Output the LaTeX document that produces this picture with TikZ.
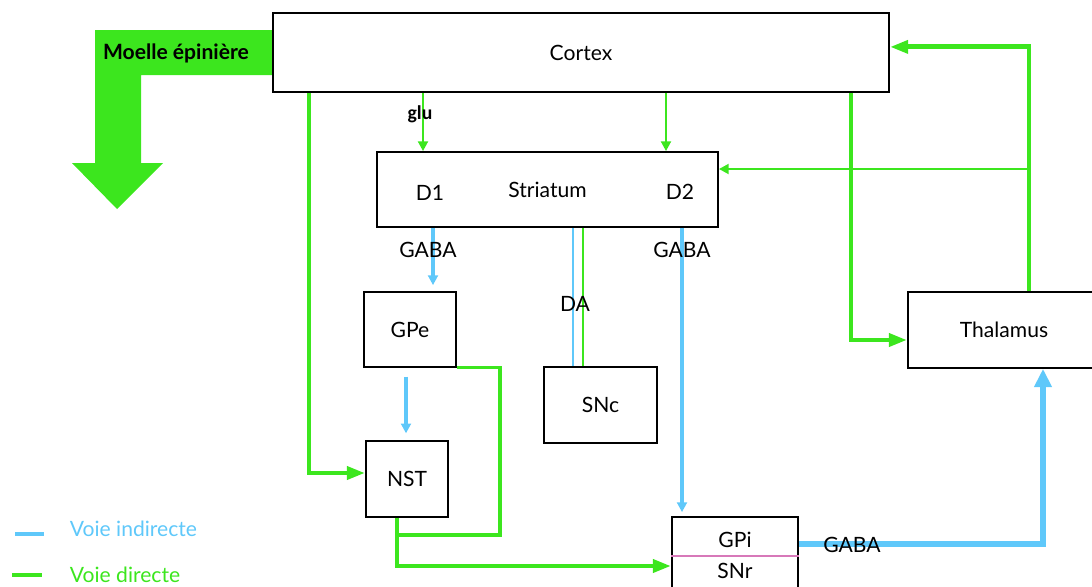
\documentclass[tikz,border=0pt]{standalone}
\usepackage{fontspec}
\setmainfont{Lato}
\newfontfamily\calib{Carlito}
\usepackage{tikz}
\usetikzlibrary{arrows.meta, positioning, calc}
\definecolor{vgreen}{RGB}{60,230,30}
\definecolor{vblue}{RGB}{95,200,250}
\definecolor{vpink}{RGB}{215,120,185}

\begin{document}
\begin{tikzpicture}[x=0.025cm,y=-0.025cm,font=\fontsize{15}{17}\selectfont,
  box/.style={draw,line width=1.2pt,inner sep=0pt,fill=white},
  gthick/.style={vgreen,line width=3.5pt,-{Triangle[length=13pt,width=9pt]}},
  gthin/.style={vgreen,line width=2pt,-{Triangle[length=7pt,width=7pt]}},
  bthin/.style={vblue,line width=2.2pt,-{Triangle[length=7pt,width=7pt]}},
  bthick/.style={vblue,line width=4pt,-{Triangle[length=13pt,width=12pt]}}]
  \useasboundingbox (0,0) rectangle (1092,586);
  % moelle epiniere
  \fill[vgreen] (273,30) -- (95,30) -- (95,163) -- (72,163) -- (117,209)
    -- (163,163) -- (141,163) -- (141,75) -- (273,75) -- cycle;
  \node[font=\fontsize{15}{17}\selectfont\bfseries] (moelle) at (176,53) {Moelle épinière};
  % boxes
  \node[box,minimum width=15.4cm,minimum height=1.975cm] (cortex) at (581,52.5) {Cortex};
  \node[box,minimum width=8.525cm,minimum height=1.875cm] (striatum) at (547.5,189.5) {Striatum};
  \node (d1) at (430,193) {D1};
  \node (d2) at (680,192) {D2};
  \node[box,minimum width=2.3cm,minimum height=1.875cm] (gpe) at (410,329.5) {GPe};
  \node[box,minimum width=2.825cm,minimum height=1.9cm] (snc) at (600.5,405) {SNc};
  \node[box,minimum width=2.05cm,minimum height=1.9cm] (nst) at (407,479) {NST};
  \node[box,minimum width=3.15cm,minimum height=1.95cm] (gpi) at (735,556) {};
  \draw[vpink,line width=1pt] (gpi.west) -- (gpi.east);
  \node (gpitxt) at (735,540) {GPi};
  \node (snrtxt) at (735,571) {SNr};
  \node[box,minimum width=4.8cm,minimum height=1.9cm] (thal) at (1004,330) {Thalamus};
  % cortex -> striatum
  \draw[gthin] (423,0 |- cortex.south) -- (423,0 |- striatum.north);
  \draw[gthin] (666,0 |- cortex.south) -- (666,0 |- striatum.north);
  \node[font=\calib\fontsize{14}{16}\selectfont\bfseries] (glu) at (420,114) {glu};
  % cortex -> NST, cortex -> thalamus
  \draw[gthick] (309,0 |- cortex.south) |- ([yshift=0.15cm]nst.west);
  \draw[gthick] (851,0 |- cortex.south) |- ([yshift=-0.25cm]thal.west);
  % thalamus -> cortex, striatum
  \draw[gthick] (1029,0 |- thal.north) |- ([yshift=0.14cm]cortex.east);
  \coordinate (br) at (1029,169);
  \draw[gthin] (br) -- (striatum.east |- br);
  % striatum outputs
  \draw[bthin,shorten >=0.15cm] (433,0 |- striatum.south) -- (433,0 |- gpe.north);
  \node (gaba1) at (428,250) {GABA};
  \draw[vblue,line width=2pt] (573,0 |- striatum.south) -- (573,0 |- snc.north);
  \draw[vgreen,line width=2pt] (583,0 |- striatum.south) -- (583,0 |- snc.north);
  \node (da) at (575,304) {DA};
  \draw[bthin,shorten >=0.1cm] (682,0 |- striatum.south) -- (682,0 |- gpi.north);
  \node (gaba2) at (682,250) {GABA};
  % GPe -> NST
  \draw[bthin,shorten <=0.22cm,shorten >=0.17cm] (406,0 |- gpe.south) -- (406,0 |- nst.north);
  \coordinate (nstjoin) at (397,535);
  \draw[vgreen,line width=2.2pt] (gpe.south east) -| (500,0 |- nstjoin) -- (nstjoin);
  % NST -> GPi
  \draw[gthick] (397,0 |- nst.south) |- ([yshift=-0.25cm]gpi.west);
  % GPi -> thalamus
  \draw[bthick] ([yshift=0.3cm]gpi.east) -| (1043,0 |- thal.south);
  \node (gaba3) at (852,545) {GABA};
  % legend
  \draw[vblue,line width=2.5pt] (15,534) -- (44,534);
  \node[vblue,anchor=west] (lgind) at (65,529) {Voie indirecte};
  \draw[vgreen,line width=2.5pt] (12,575) -- (42,575);
  \node[vgreen,anchor=west] (lgdir) at (65,575) {Voie directe};
\end{tikzpicture}
\end{document}
